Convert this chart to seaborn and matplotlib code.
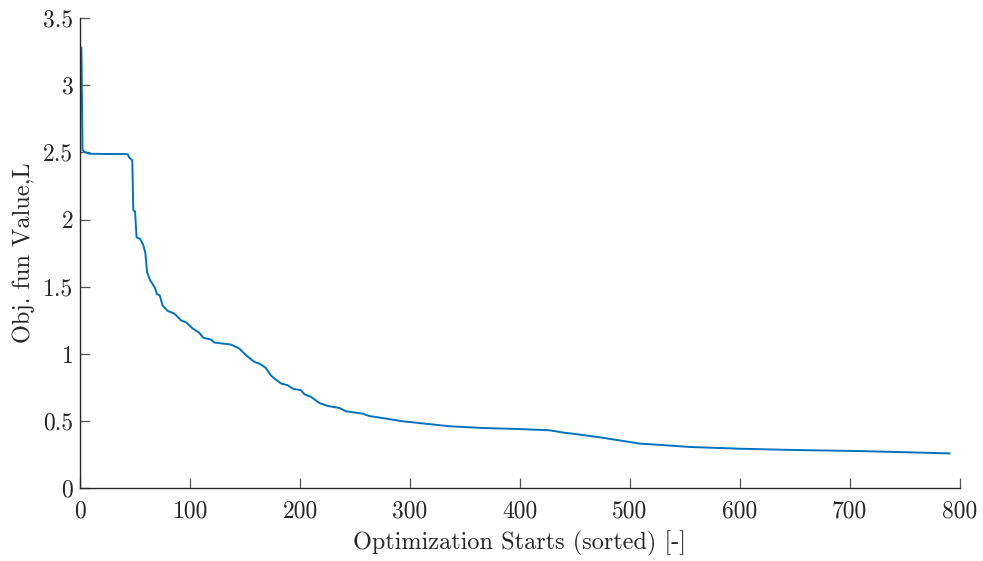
import matplotlib
matplotlib.use("Agg")
import matplotlib.pyplot as plt
import seaborn as sns
import pandas as pd

# Objective value of each optimization start, sorted in descending order
starts = [1, 2, 3.6, 8, 20, 43, 44.6, 46.1, 47.3, 48.2, 49.8, 51.2, 54.3, 57.3,
          59.2, 60.7, 63.4, 65.8, 68, 69.8, 72.2, 74.9, 79.5, 85.6, 91.6, 96.2,
          102.2, 108.3, 111.9, 118.9, 122, 137.1, 144.7, 150.8, 158.4, 162.9,
          168.4, 173.5, 176.6, 182.7, 188.7, 193.2, 200.8, 203.9, 210, 217.5,
          225.1, 235.7, 241.8, 257, 263, 278.2, 293.3, 308.5, 335.8, 366.1,
          396.5, 426.8, 442, 448, 470.8, 490.6, 508.8, 530, 554.3, 599.8,
          645.3, 712, 791]
obj_values = [3.28, 2.517, 2.505, 2.49, 2.488, 2.487, 2.46, 2.45, 2.44, 2.07,
              2.06, 1.867, 1.857, 1.81, 1.75, 1.61, 1.55, 1.52, 1.49, 1.445,
              1.437, 1.36, 1.32, 1.30, 1.25, 1.235, 1.19, 1.157, 1.12, 1.107,
              1.085, 1.07, 1.04, 0.99, 0.94, 0.928, 0.899, 0.84, 0.817, 0.78,
              0.767, 0.742, 0.73, 0.70, 0.68, 0.635, 0.613, 0.598, 0.573, 0.556,
              0.538, 0.519, 0.499, 0.486, 0.462, 0.449, 0.442, 0.432, 0.412,
              0.407, 0.382, 0.357, 0.333, 0.322, 0.308, 0.295, 0.286, 0.277,
              0.26]

x_ticks = [0, 100, 200, 300, 400, 500, 600, 700, 800]
y_ticks = [0, 0.5, 1, 1.5, 2, 2.5, 3, 3.5]
y_tick_labels = ["0", "0.5", "1", "1.5", "2", "2.5", "3", "3.5"]

df = pd.DataFrame({"start": starts, "obj": obj_values})

sns.set_theme(style="white")
plt.rcParams["font.family"] = ["cmr10", "DejaVu Serif"]
plt.rcParams["axes.formatter.use_mathtext"] = True

axis_color = "#262626"
fig = plt.figure(figsize=(9.83, 5.61), dpi=100)
ax = fig.add_axes([0.0817, 0.1295, 0.8944, 0.8385])

sns.lineplot(data=df, x="start", y="obj", ax=ax, color="#0072BD",
             linewidth=1.4, sort=False, estimator=None)

ax.set_xlim(0, 800)
ax.set_ylim(0, 3.5)
ax.set_xticks(x_ticks)
ax.set_xticklabels([str(t) for t in x_ticks])
ax.set_yticks(y_ticks)
ax.set_yticklabels(y_tick_labels)

for side in ("top", "right"):
    ax.spines[side].set_visible(False)
for side in ("left", "bottom"):
    ax.spines[side].set_color(axis_color)
    ax.spines[side].set_linewidth(1.0)

ax.tick_params(axis="both", direction="in", length=7, width=0.9,
               colors="#555555", labelcolor=axis_color, labelsize=17,
               bottom=True, left=True)
ax.tick_params(axis="x", pad=9)
ax.tick_params(axis="y", pad=5)

ax.set_xlabel("Optimization Starts (sorted) [-]", fontsize=17.5,
              color=axis_color, labelpad=5.5)
ax.set_ylabel("Obj. fun Value,L", fontsize=17.5, color=axis_color,
              labelpad=6)

fig.savefig("out.png", dpi=100)
